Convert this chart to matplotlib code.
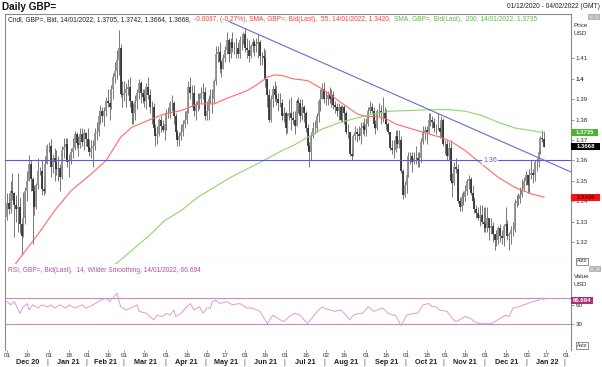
import numpy as np
import matplotlib
matplotlib.use('Agg')
import matplotlib.pyplot as plt
from matplotlib.transforms import blended_transform_factory as btf
from matplotlib.patches import Rectangle

plt.rcParams['font.family'] = ['Liberation Sans', 'DejaVu Sans']

START = '2020-12-01'
AXIS_END = '2022-02-04'

# ---- daily GBP= candles, values in pips (1e-4), trading days from 01/12/2020 ----
first_open = 13325
close_p = [
    13390,13360,13450,13440,13380,13360,13370,13290,13230,13320,13450,13500,13580,13510,13450,13370,13480,13550,13550,13460,13450,13580,13670,
    13670,13570,13610,13590,13560,13565,13520,13650,13665,13680,13590,13600,13640,13660,13730,13685,13675,13730,13690,13735,13705,
    13665,13640,13660,13670,13735,13740,13820,13840,13820,13840,13890,13880,13860,13950,14010,14040,14090,14150,13925,13920,
    13930,13950,13960,13890,13830,13830,13890,13930,13980,13930,13910,13890,13960,13920,13860,13860,13760,13720,13730,13800,13770,13750,13780,
    13830,13830,13880,13880,13820,13740,13700,13720,13740,13780,13800,13840,13960,13930,13930,13840,13870,13890,13900,13930,13935,13820,
    13840,13900,13900,13900,13990,14120,14130,14080,14050,14100,14140,14190,14120,14180,14150,14150,14150,14120,14190,14190,14220,
    14150,14140,14110,14160,14180,14160,14170,14180,14110,14110,14100,14000,13920,13800,13900,13950,13920,13900,13880,13880,13820,13830,
    13760,13820,13830,13810,13800,13770,13890,13880,13820,13860,13830,13760,13670,13640,13720,13760,13760,13820,13890,13900,13950,13900,
    13900,13920,13900,13920,13870,13860,13840,13860,13800,13860,13830,13740,13740,13630,13620,13720,13740,13730,13720,13760,13770,13750,
    13780,13840,13860,13840,13780,13760,13840,13840,13830,13830,13810,13780,13740,13660,13650,13650,13720,13680,13700,13550,13430,13480,
    13530,13620,13620,13590,13610,13610,13600,13610,13690,13740,13750,13740,13800,13800,13790,13760,13760,13760,13740,13800,13680,
    13680,13620,13660,13500,13490,13570,13560,13400,13370,13420,13420,13450,13500,13510,13440,13400,13360,13340,13320,13330,13300,13290,
    13270,13320,13270,13280,13240,13210,13210,13270,13230,13220,13280,13290,13230,13240,13260,13260,13390,13400,13410,13430,13460,13500,13530,
    13480,13530,13540,13530,13590,13590,13640,13710,13705,13668,
]
high_p = [
    13440,13440,13500,13540,13445,13430,13540,13420,13310,13445,13470,13550,13625,13600,13520,13480,13490,13610,13570,13600,13520,13620,13680,
    13690,13703,13630,13660,13650,13620,13580,13670,13710,13710,13710,13630,13660,13710,13745,13740,13720,13760,13760,13755,13740,
    13760,13705,13700,13700,13760,13790,13840,13870,13860,13860,13910,13950,13900,13970,14030,14080,14140,14240,14170,13990,
    13990,13980,14000,14010,13890,13880,13920,13950,14000,13990,13950,13950,13980,14010,13950,13890,13880,13780,13770,13810,13820,13800,13810,
    13850,13860,13890,13920,13890,13830,13750,13740,13780,13800,13840,13850,13990,14010,13970,13970,13890,13930,13930,13960,13980,13960,
    13890,13920,13950,13950,14000,14160,14160,14180,14090,14120,14160,14230,14200,14200,14230,14180,14200,14180,14210,14220,14230,
    14250,14200,14190,14170,14200,14190,14200,14220,14190,14130,14150,14140,14000,13950,13920,13970,13990,13970,13930,13930,13900,13860,
    13840,13830,13900,13910,13840,13840,13900,13910,13900,13900,13870,13840,13780,13690,13740,13790,13800,13830,13900,13950,13980,13984,
    13940,13940,13960,13950,13940,13890,13880,13880,13870,13870,13870,13840,13780,13740,13670,13730,13770,13760,13770,13790,13790,13810,
    13810,13860,13890,13880,13860,13800,13850,13880,13870,13913,13860,13850,13790,13740,13700,13700,13750,13750,13750,13720,13560,13500,
    13560,13640,13640,13640,13640,13670,13640,13640,13710,13770,13770,13770,13830,13834,13820,13810,13780,13830,13780,13820,13810,
    13700,13700,13690,13700,13540,13590,13610,13580,13420,13440,13450,13480,13510,13530,13520,13480,13420,13380,13370,13380,13380,13370,
    13370,13370,13310,13320,13300,13240,13260,13280,13290,13260,13290,13374,13310,13250,13280,13300,13410,13430,13440,13470,13510,13520,13550,
    13530,13560,13600,13560,13600,13610,13660,13720,13750,13742,
]
low_p = [
    13310,13335,13340,13405,13225,13300,13250,13245,13134,13225,13290,13400,13500,13450,13188,13330,13360,13460,13530,13430,13430,13440,13580,
    13640,13520,13540,13500,13530,13500,13450,13510,13610,13600,13570,13520,13580,13610,13650,13660,13620,13660,13670,13650,13670,
    13650,13620,13610,13566,13650,13700,13720,13780,13790,13770,13820,13860,13800,13850,13900,13980,14000,14020,13910,13860,
    13890,13860,13920,13860,13779,13780,13800,13850,13900,13880,13880,13860,13850,13900,13830,13780,13740,13670,13680,13720,13740,13740,13700,
    13750,13810,13810,13840,13780,13720,13670,13670,13700,13720,13760,13780,13830,13900,13860,13820,13800,13840,13850,13880,13900,13800,
    13800,13800,13880,13830,13880,13970,14080,14030,14010,14050,14080,14120,14080,14100,14130,14120,14100,14100,14100,14140,14170,
    14130,14100,14080,14100,14130,14110,14130,14100,14070,14070,14060,13960,13860,13787,13790,13860,13890,13870,13840,13860,13800,13790,
    13730,13735,13800,13750,13780,13730,13770,13830,13790,13800,13790,13740,13650,13570,13600,13710,13730,13740,13790,13840,13900,13880,
    13870,13870,13880,13860,13850,13830,13820,13800,13790,13790,13780,13730,13710,13620,13600,13620,13700,13690,13700,13680,13730,13720,
    13720,13770,13830,13830,13760,13730,13750,13820,13780,13790,13780,13750,13730,13650,13630,13610,13640,13660,13660,13540,13412,13420,
    13440,13520,13580,13545,13580,13580,13570,13570,13590,13680,13700,13680,13730,13770,13760,13740,13730,13750,13710,13710,13670,
    13630,13600,13600,13490,13420,13480,13540,13390,13350,13350,13380,13400,13430,13460,13430,13390,13340,13320,13310,13280,13290,13250,
    13250,13250,13210,13240,13200,13160,13180,13190,13200,13190,13180,13250,13210,13160,13190,13230,13250,13370,13380,13390,13420,13450,13480,
    13440,13440,13510,13490,13500,13550,13570,13630,13690,13664,
]

# ---- moving averages (read points: trading-day index, value) ----
sma55_idx = [4, 17, 26, 35, 46, 54, 62, 68, 78, 86, 95, 104, 113, 119, 124, 131, 137, 142, 146, 150, 156,
             164, 172, 182, 191, 196, 202, 207, 212, 218, 227, 233, 237, 243, 250, 259, 268, 277, 286, 293]
sma55_val = [1.3085, 1.3239, 1.3354, 1.3452, 1.3534, 1.3599, 1.3713, 1.3762, 1.3800, 1.3828, 1.3844, 1.3877,
             1.3877, 1.3901, 1.3918, 1.3942, 1.3975, 1.4008, 1.4019, 1.4016, 1.4000, 1.3991, 1.3950, 1.3885,
             1.3828, 1.3815, 1.3815, 1.3803, 1.3779, 1.3762, 1.3738, 1.3722, 1.3713, 1.3689, 1.3648, 1.3582,
             1.3517, 1.3468, 1.3436, 1.3420]
sma200_idx = [57, 62, 78, 86, 95, 104, 113, 122, 131, 140, 150, 156, 164, 172, 182, 191, 200, 209, 218, 227,
              234, 241, 250, 259, 268, 277, 286, 293]
sma200_val = [1.3077, 1.3112, 1.3235, 1.3305, 1.3354, 1.3419, 1.3468, 1.3517, 1.3558, 1.3599, 1.3648, 1.3672,
              1.3713, 1.3754, 1.3787, 1.3808, 1.3828, 1.3841, 1.3844, 1.3847, 1.3849, 1.3849, 1.3841, 1.3820,
              1.3787, 1.3759, 1.3746, 1.3735]

# ---- drawn lines ----
hline_level = 1.36
trend_dates = ['2021-05-19', AXIS_END]
trend_vals = [1.4281, 1.3542]

# ---- RSI (14, Wilder) read points ----
rsi_idx = [0, 2, 4, 7, 9, 11, 12, 14, 17, 19, 22, 24, 26, 29, 32, 34, 37, 41, 43, 47, 51, 54, 56, 60, 62, 65,
           69, 71, 72, 76, 80, 82, 85, 87, 89, 91, 92, 95, 98, 100, 102, 105, 107, 109, 111, 112, 114, 116, 120,
           123, 127, 131, 134, 138, 142, 145, 149, 151, 154, 157, 160, 162, 164, 167, 170, 172, 173, 176, 179,
           182, 184, 187, 189, 192, 194, 197, 200, 202, 205, 208, 211, 212, 215, 218, 222, 224, 227, 230, 232,
           234, 236, 240, 243, 245, 247, 250, 253, 255, 258, 261, 264, 266, 269, 272, 274, 276, 279, 282, 284,
           287, 290, 292, 293]
rsi_val = [65, 60, 65, 47, 57, 62, 52, 60, 55, 60, 57, 60, 55, 60, 55, 60, 55, 60, 55, 60, 67, 70, 65, 78, 57, 52,
           57, 60, 50, 47, 37, 44, 42, 47, 44, 52, 42, 47, 57, 62, 52, 57, 47, 55, 55, 65, 67, 62, 65,
           60, 62, 55, 55, 50, 31, 44, 37, 34, 42, 47, 44, 37, 31, 42, 52, 57, 55, 52, 50,
           52, 47, 37, 44, 47, 47, 57, 50, 52, 55, 47, 44, 44, 28, 44, 47, 47, 60, 62, 57,
           57, 52, 50, 39, 34, 37, 42, 39, 34, 31, 31, 31, 34, 39, 44, 42, 55, 57, 60, 62,
           65, 67, 71, 66.694]

# ---- x axis labels ----
tick_dates = ['2020-12-01', '2020-12-16', '2021-01-01', '2021-01-18', '2021-02-01', '2021-02-16', '2021-03-01',
              '2021-03-16', '2021-04-01', '2021-04-16', '2021-05-03', '2021-05-17', '2021-06-01', '2021-06-16',
              '2021-07-01', '2021-07-16', '2021-08-02', '2021-08-16', '2021-09-01', '2021-09-16', '2021-10-01',
              '2021-10-18', '2021-11-01', '2021-11-16', '2021-12-01', '2021-12-16', '2022-01-03', '2022-01-17',
              '2022-02-01']
month_starts = ['2020-12-01', '2021-01-01', '2021-02-01', '2021-03-01', '2021-04-01', '2021-05-01', '2021-06-01',
                '2021-07-01', '2021-08-01', '2021-09-01', '2021-10-01', '2021-11-01', '2021-12-01', '2022-01-01',
                '2022-02-01']
month_labels = ['Dec 20', 'Jan 21', 'Feb 21', 'Mar 21', 'Apr 21', 'May 21', 'Jun 21', 'Jul 21', 'Aug 21',
                'Sep 21', 'Oct 21', 'Nov 21', 'Dec 21', 'Jan 22']
price_ticks = [1.32, 1.33, 1.34, 1.35, 1.36, 1.37, 1.38, 1.39, 1.40, 1.41]
rsi_ticks = [30, 60]


def bidx(d):
    return int(np.busday_count(START, d))


W, H = 602, 367
fig = plt.figure(figsize=(W / 100, H / 100), dpi=100)
fig.patch.set_facecolor('white')


def rect(x0, y0, x1, y1):
    return [x0 / W, 1 - y1 / H, (x1 - x0) / W, (y1 - y0) / H]


ax = fig.add_axes(rect(5, 14, 571, 264))
ax2 = fig.add_axes(rect(5, 264, 571, 350))

XL = (-1.09, 307.7)
YT, YB = 1.43176, 1.30922
RT, RB = 122.8, -9.5
for a in (ax, ax2):
    a.set_xlim(*XL)
    for s in a.spines.values():
        s.set_color('#8a8a8a')
        s.set_linewidth(0.8)
ax.set_ylim(YB, YT)
ax2.set_ylim(RB, RT)
ax2.spines['top'].set_visible(False)
ax2.spines['bottom'].set_visible(False)
ax.spines['bottom'].set_color('#b0b0b0')

# candles
c = np.array(close_p) / 1e4
o = np.concatenate([[first_open], close_p[:-1]]) / 1e4
h = np.array(high_p) / 1e4
l = np.array(low_p) / 1e4
x = np.arange(len(c))
up = c >= o
ax.vlines(x, l, h, color='#6e6e6e', lw=0.65, zorder=2)
ax.vlines(x[up], o[up], c[up], color='#8e8e8e', lw=1.25, zorder=2.1)
ax.vlines(x[~up], c[~up], o[~up], color='#2e2e2e', lw=1.25, zorder=2.1)

ax.plot(sma55_idx, sma55_val, color='#ff6a6a', lw=0.8, zorder=3)
ax.plot(sma200_idx, sma200_val, color='#93d46e', lw=0.8, zorder=3)
ax.axhline(hline_level, color='#5a5ad8', lw=0.8, zorder=3)
ax.plot([bidx(d) for d in trend_dates], trend_vals, color='#6b6bd0', lw=0.8, zorder=3, clip_on=True)
ax.text((490 - 5) / 566, hline_level, '1.36', transform=btf(ax.transAxes, ax.transData), color='#5a5ad8',
        fontsize=5, ha='center', va='center', zorder=4,
        bbox=dict(boxstyle='square,pad=0.15', fc='white', ec='none'))

# price axis
ax.yaxis.tick_right()
ax.set_yticks(price_ticks)
ax.set_yticklabels(['1.4' if abs(t - 1.40) < 1e-9 else '%.2f' % t for t in price_ticks])
for lab in ax.get_yticklabels():
    if lab.get_text() == '1.4':
        lab.set_fontweight('bold')
ax.tick_params(axis='y', length=2, width=0.5, color='#707070', labelsize=4.5, pad=1.5, labelcolor='#303030')
ax.tick_params(axis='x', bottom=False, labelbottom=False)

# RSI
ax2.plot(rsi_idx, rsi_val, color='#dc9cd2', lw=0.7, zorder=3)
ax2.axhline(70, color='#c98bbf', lw=0.8)
ax2.axhline(30, color='#c98bbf', lw=0.8)
ax2.yaxis.tick_right()
ax2.set_yticks(rsi_ticks)
ax2.set_yticklabels([str(t) for t in rsi_ticks])
ax2.tick_params(axis='y', length=2, width=0.5, color='#707070', labelsize=4.5, pad=1.5, labelcolor='#303030')
ax2.set_xticks([bidx(d) for d in tick_dates])
ax2.set_xticklabels([d[-2:] for d in tick_dates])
ax2.tick_params(axis='x', length=1.5, width=0.5, color='#707070', labelsize=4.5, pad=1.0, labelcolor='#303030')

# month labels and separators
tb = btf(ax2.transData, fig.transFigure)
ms = [bidx(d) for d in month_starts]
for i, lab in enumerate(month_labels):
    fig.text((ms[i] + ms[i + 1]) / 2, 1 - 363 / H, lab, transform=tb, fontsize=5.2, fontweight='bold',
             ha='center', va='center', color='#202020')
for m in ms[1:]:
    fig.text(m - 0.8, 1 - 363 / H, '|', transform=tb, fontsize=5.2, ha='center', va='center', color='#505050')

# titles
fig.text(2 / W, 1 - 7 / H, 'Daily GBP=', fontsize=7.2, fontweight='bold', ha='left', va='center', color='#111111')
fig.text(600 / W, 1 - 7 / H, '01/12/2020 - 04/02/2022 (GMT)', fontsize=4.8, ha='right', va='center', color='#202020')

# legend line: chained coloured segments
leg_parts = [('Cndl, GBP=, Bid, 14/01/2022, 1.3705, 1.3742, 1.3664, 1.3668,', '#202020'),
             ('-0.0037, (-0.27%), SMA, GBP=, Bid(Last),  55, 14/01/2022, 1.3420,', '#ff3b3b'),
             ('SMA, GBP=, Bid(Last),  200, 14/01/2022, 1.3735', '#5cb845')]
LFS = 4.75
prev = fig.text(8 / W, 1 - 19.5 / H, leg_parts[0][0], color=leg_parts[0][1], fontsize=LFS,
                ha='left', va='center')
for s, col in leg_parts[1:]:
    prev = fig.add_artist(matplotlib.text.Annotation(
        s, xy=(1, 0.5), xycoords=prev, xytext=(2.2, 0), textcoords='offset points',
        ha='left', va='center', color=col, fontsize=LFS, annotation_clip=False))

fig.text(8 / W, 1 - 270 / H, 'RSI, GBP=, Bid(Last),  14, Wilder Smoothing, 14/01/2022, 66.694',
         fontsize=4.82, color='#b0509e', ha='left', va='center')

# right-side labels
for txt, yy in (('Price', 25.5), ('USD', 33.5), ('Value', 277), ('USD', 285)):
    fig.text(574 / W, 1 - yy / H, txt, fontsize=4.6, ha='left', va='center', color='#303030')


def py(p):
    return 14 + (YT - p) / (YT - YB) * 250


def ry(v):
    return 264 + (RT - v) / (RT - RB) * 86


def tag(yp, txt, fc, tc, x1=598):
    fig.patches.append(Rectangle((571 / W, 1 - (yp + 3.5) / H), (x1 - 571) / W, 7 / H,
                                 transform=fig.transFigure, fc=fc, ec='none', zorder=5))
    fig.text((571 + x1) / 2 / W, 1 - yp / H, txt, fontsize=4.3, ha='center', va='center', color=tc,
             fontweight='bold', zorder=6)


tag(py(sma200_val[-1]), '1.3735', '#4fb034', '#eaffea')
tag(py(c[-1]), '1.3668', '#000000', '#ffffff', 600)
tag(py(sma55_val[-1]), '1.3420', '#ff1010', '#3a0000', 600)
tag(ry(rsi_val[-1]), '66.694', '#a8327a', '#ffffff', 593)

# Auto buttons and icons
for yy in (261, 345.5):
    fig.text(582 / W, 1 - yy / H, 'Auto', fontsize=3.6, ha='center', va='center', color='#303030',
             bbox=dict(boxstyle='square,pad=0.2', fc='white', ec='#606060', lw=0.5))
for (xx, yy) in ((588, 14), (594, 14), (589, 266), (595, 266)):
    fig.patches.append(Rectangle((xx / W, 1 - (yy + 5) / H), 5 / W, 5 / H, transform=fig.transFigure,
                                 fc='#c8c8c8', ec='#909090', lw=0.4))

fig.savefig('out.png', dpi=100, facecolor='white')
